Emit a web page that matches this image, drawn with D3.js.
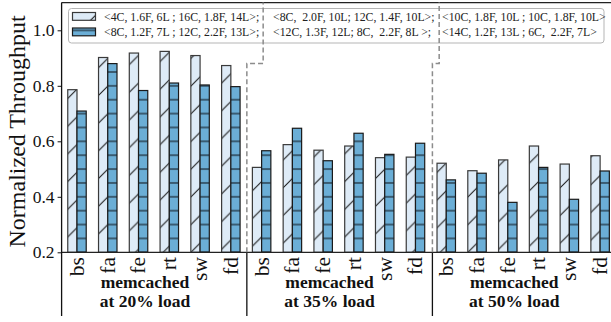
<!DOCTYPE html>
<html>
<head>
<meta charset="utf-8">
<script src="https://cdn.jsdelivr.net/npm/d3@7/dist/d3.min.js"></script>
<style>
  body { margin: 0; background: #fff; }
  svg { display: block; font-family: "Liberation Serif", "Times New Roman", serif; }
</style>
</head>
<body>
<div id="chart"></div>
<script>
// apps along the x axis, repeated for each load level
const apps = ["bs", "fa", "fe", "rt", "sw", "fd"];
const loads = ["memcached|at 20% load", "memcached|at 35% load", "memcached|at 50% load"];

// normalized throughput (20%, 35%, 50% load)
const configA = [0.786, 0.902, 0.918, 0.924, 0.909, 0.873,
                 0.506, 0.588, 0.568, 0.583, 0.541, 0.543,
                 0.521, 0.494, 0.533, 0.583, 0.518, 0.548];
const configB = [0.709, 0.880, 0.783, 0.810, 0.803, 0.797,
                 0.566, 0.647, 0.530, 0.629, 0.553, 0.593,
                 0.461, 0.485, 0.380, 0.506, 0.391, 0.493];

const yTicks = [0.2, 0.4, 0.6, 0.8, 1.0];

// legend text, one column per load level
const legendA = ["<4C, 1.6F, 6L ; 16C, 1.8F, 14L>;", "<8C,  2.0F, 10L; 12C, 1.4F, 10L>;", "<10C, 1.8F, 10L ; 10C, 1.8F, 10L>"];
const legendB = ["<8C, 1.2F, 7L ; 12C, 2.2F, 13L>;", "<12C, 1.3F, 12L; 8C,  2.2F, 8L >;", "<14C, 1.2F, 13L ; 6C,  2.2F, 7L>"];

const width = 611, height = 322;
const lightFill = "#deebf7", darkFill = "#6baed6";

const svg = d3.select("#chart").append("svg")
    .attr("width", width)
    .attr("height", height);

const x = d3.scaleLinear().domain([-0.5, 17.5]).range([61.6, 615.5]);
const y = d3.scaleLinear().domain([0.2, 1.1]).range([252.3, 2.55]);
const barW = 0.3;

// hatch patterns (aligned to the page, like matplotlib)
const defs = svg.append("defs");
const diag = defs.append("pattern")
    .attr("id", "diag")
    .attr("patternUnits", "userSpaceOnUse")
    .attr("width", 27.7).attr("height", 27.7);
diag.append("rect").attr("width", 27.7).attr("height", 27.7).attr("fill", lightFill);
diag.append("path")
    .attr("d", "M0,27.7L27.7,0M-3,3L3,-3M24.7,30.7L30.7,24.7")
    .attr("stroke", "#111").attr("stroke-width", 1);

const hstep = 13.87;
const horiz = defs.append("pattern")
    .attr("id", "horiz")
    .attr("patternUnits", "userSpaceOnUse")
    .attr("y", (252.3 % hstep) - hstep / 2)
    .attr("width", 20).attr("height", hstep);
horiz.append("rect").attr("width", 20).attr("height", hstep).attr("fill", darkFill);
horiz.append("path")
    .attr("d", `M0,${hstep / 2}H20`)
    .attr("stroke", "#1a2630").attr("stroke-width", 1.2);

// bars
const idx = d3.range(configA.length);
svg.append("g").selectAll("rect")
    .data(idx)
    .join("rect")
    .attr("x", i => x(i - barW))
    .attr("y", i => y(configA[i]))
    .attr("width", x(barW) - x(0))
    .attr("height", i => y(0.2) - y(configA[i]))
    .attr("fill", "url(#diag)")
    .attr("stroke", "#3a3a3a")
    .attr("stroke-width", 1.2);

svg.append("g").selectAll("rect")
    .data(idx)
    .join("rect")
    .attr("x", i => x(i))
    .attr("y", i => y(configB[i]))
    .attr("width", x(barW) - x(0))
    .attr("height", i => y(0.2) - y(configB[i]))
    .attr("fill", "url(#horiz)")
    .attr("stroke", "#1a1a1a")
    .attr("stroke-width", 1.2);

// spines
svg.append("line")
    .attr("x1", x(-0.5)).attr("x2", width)
    .attr("y1", y(0.2)).attr("y2", y(0.2))
    .attr("stroke", "#222").attr("stroke-width", 1.2);
svg.append("line")
    .attr("x1", x(-0.5)).attr("x2", width)
    .attr("y1", y(1.1)).attr("y2", y(1.1))
    .attr("stroke", "#222").attr("stroke-width", 1.2);
svg.append("line")
    .attr("x1", x(-0.5)).attr("x2", x(-0.5))
    .attr("y1", y(1.1)).attr("y2", 316)
    .attr("stroke", "#111").attr("stroke-width", 1.3);

// y axis
const yAxis = svg.append("g")
    .attr("transform", `translate(${x(-0.5)},0)`)
    .call(d3.axisLeft(y).tickValues(yTicks).tickFormat(d3.format(".1f")).tickSize(4).tickPadding(3));
yAxis.select(".domain").remove();
yAxis.selectAll("line").attr("stroke", "#111");
yAxis.selectAll("text")
    .attr("font-family", "Liberation Serif")
    .attr("font-size", 17.5)
    .attr("fill", "#111");

svg.append("text")
    .attr("transform", `translate(25,${(y(0.2) + y(1.1)) / 2 + 4}) rotate(-90)`)
    .attr("text-anchor", "middle")
    .attr("font-size", 24)
    .attr("fill", "#111")
    .text("Normalized Throughput");

// x tick labels (rotated)
svg.append("g").selectAll("text")
    .data(idx)
    .join("text")
    .attr("transform", i => `translate(${x(i)},257) rotate(-90)`)
    .attr("text-anchor", "end")
    .attr("dy", "0.32em")
    .attr("font-size", 21.5)
    .attr("fill", "#111")
    .text(i => apps[i % apps.length]);

// group labels and solid separators below the axis
loads.forEach((label, g) => {
    const cx = x(g * 6 + 2.5) - 9;
    label.split("|").forEach((line, k) => {
        svg.append("text")
            .attr("x", cx)
            .attr("y", 288 + k * 19)
            .attr("text-anchor", "middle")
            .attr("font-size", 17.5)
            .attr("font-weight", "bold")
            .attr("fill", "#111")
            .text(line);
    });
});

const sepLow = [5.52, 11.55];
const sepHigh = [6.05, 11.77];
sepLow.forEach(s => {
    svg.append("line")
        .attr("x1", x(s)).attr("x2", x(s))
        .attr("y1", y(0.2)).attr("y2", 316)
        .attr("stroke", "#111").attr("stroke-width", 1.3);
});

// legend
const lg = svg.append("g");
lg.append("rect")
    .attr("x", 68.5).attr("y", 8.5)
    .attr("width", 535.5).attr("height", 34.5)
    .attr("rx", 3)
    .attr("fill", "#fff")
    .attr("stroke", "#b5b5b5")
    .attr("stroke-width", 1);
lg.append("rect")
    .attr("x", 72.5).attr("y", 12.5).attr("width", 23).attr("height", 7.8)
    .attr("fill", "url(#diag)").attr("stroke", "#3a3a3a").attr("stroke-width", 1.2);
lg.append("rect")
    .attr("x", 72.5).attr("y", 28).attr("width", 23).attr("height", 7.8)
    .attr("fill", "url(#horiz)").attr("stroke", "#1a1a1a").attr("stroke-width", 1.2);

const colX = [104, 273, 442];
[legendA, legendB].forEach((rows, r) => {
    rows.forEach((t, c) => {
        lg.append("text")
            .attr("x", colX[c])
            .attr("y", 20.5 + r * 15.3)
            .attr("font-size", 11.8)
            .attr("fill", "#222")
            .style("white-space", "pre")
            .text(t);
    });
});

// dashed stepped dividers between load levels
const jogY = 63.5;
sepLow.forEach((s, k) => {
    const path = d3.path();
    path.moveTo(x(s), y(0.2));
    path.lineTo(x(s), jogY);
    path.lineTo(x(sepHigh[k]), jogY);
    path.lineTo(x(sepHigh[k]), y(1.1));
    svg.append("path")
        .attr("d", path.toString())
        .attr("fill", "none")
        .attr("stroke", "#8c8c8c")
        .attr("stroke-width", 1.5)
        .attr("stroke-dasharray", "5,3");
});
</script>
</body>
</html>
